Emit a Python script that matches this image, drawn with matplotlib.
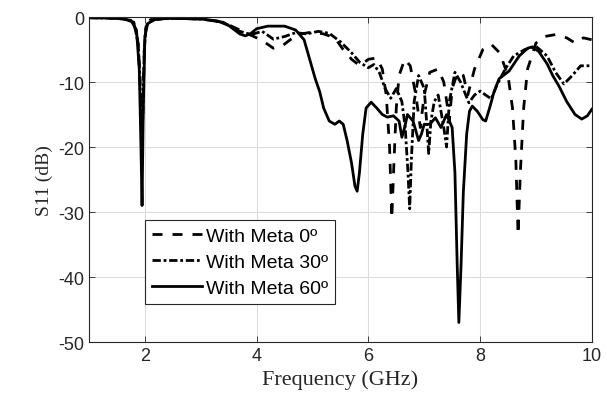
import numpy as np
import matplotlib.pyplot as plt

plt.rcParams['font.family'] = 'Liberation Sans'
plt.rcParams['axes.unicode_minus'] = False

# S11 curves (frequency in GHz, S11 in dB)
freq_0 = [1.0, 1.6, 1.8, 1.88, 1.91, 1.93, 1.95, 1.97, 1.99, 2.02, 2.1, 2.5, 3.0, 3.4,
          3.7, 3.9, 4.1, 4.3, 4.45, 4.6, 4.8, 5.0, 5.2, 5.4, 5.55, 5.7, 5.85, 6.0,
          6.15, 6.25, 6.32, 6.38, 6.42, 6.46, 6.5, 6.55, 6.65, 6.75, 6.85, 6.93, 7.0,
          7.1, 7.25, 7.35, 7.42, 7.45, 7.5, 7.6, 7.7, 7.78, 7.9, 8.05, 8.2, 8.35,
          8.5, 8.58, 8.64, 8.68, 8.72, 8.78, 8.85, 9.0, 9.15, 9.35, 9.55, 9.7, 9.85, 10.0]
s11_0 = [-0.1, -0.2, -0.8, -4, -9, -15, -20, -12, -5, -1.5, -0.4, -0.2, -0.3, -0.8,
         -2, -2.8, -3.6, -4.8, -4.5, -3.5, -2.6, -2.3, -2.6, -3.2, -5, -6.5, -7.5, -6.5,
         -6.3, -8, -12, -20, -31, -22, -14, -9, -6.5, -7.5, -12, -17, -12,
         -8.5, -8, -10, -14, -16, -11, -8.5, -9, -12, -8, -5, -4.2, -5.5,
         -9, -14, -22, -33.5, -24, -14, -8, -4, -3, -2.7, -3.2, -4, -3.2, -3.5]

freq_30 = [1.0, 1.6, 1.8, 1.88, 1.91, 1.93, 1.95, 1.97, 1.99, 2.02, 2.1, 2.5, 3.0, 3.4,
           3.7, 3.9, 4.1, 4.3, 4.5, 4.7, 4.9, 5.1, 5.3, 5.5, 5.7, 5.85, 6.0, 6.1, 6.2,
           6.3, 6.4, 6.5, 6.6, 6.66, 6.71, 6.74, 6.77, 6.82, 6.9, 7.0, 7.05, 7.08,
           7.12, 7.18, 7.25, 7.35, 7.4, 7.45, 7.55, 7.65, 7.8, 7.9, 8.0, 8.1, 8.2,
           8.3, 8.45, 8.6, 8.8, 9.0, 9.2, 9.35, 9.5, 9.65, 9.8, 10.0]
s11_30 = [-0.1, -0.2, -0.8, -4, -9, -15, -21, -12, -5, -1.5, -0.4, -0.2, -0.3, -0.8,
          -2.2, -2.7, -2.2, -3.4, -3.0, -2.4, -2.6, -2.2, -2.5, -3.8, -5.5, -7, -7.8, -7.3, -8.6,
          -11, -12.5, -11, -13, -17, -24, -29.5, -22, -13, -9, -11, -17, -21,
          -16, -13, -12, -17, -20, -13, -8.5, -10, -13.2, -12, -11.4, -12, -12.6,
          -10.5, -8, -6, -5, -4.5, -6, -8.5, -10.3, -9, -7.5, -7.5]

freq_60 = [1.0, 1.5, 1.75, 1.85, 1.9, 1.93, 1.95, 1.97, 2.0, 2.05, 2.2, 2.5, 3.0, 3.3,
           3.5, 3.7, 3.8, 3.9, 4.0, 4.2, 4.5, 4.7, 4.85, 4.95, 5.05, 5.13, 5.2, 5.3,
           5.4, 5.48, 5.55, 5.62, 5.7, 5.76, 5.8, 5.84, 5.9, 5.96, 6.05, 6.15, 6.25,
           6.34, 6.45, 6.55, 6.6, 6.65, 6.7, 6.8, 6.9, 6.95, 7.0, 7.1, 7.2, 7.3, 7.4,
           7.5, 7.55, 7.59, 7.62, 7.66, 7.7, 7.76, 7.81, 7.86, 7.95, 8.05, 8.1, 8.17,
           8.25, 8.34, 8.52, 8.7, 8.85, 8.93, 9.05, 9.2, 9.3, 9.41, 9.55, 9.7, 9.82,
           9.92, 10.0]
s11_60 = [-0.1, -0.2, -0.5, -2, -8, -20, -29, -15, -3, -1, -0.3, -0.2, -0.3, -0.6,
          -1.3, -2.6, -2.9, -2.5, -1.8, -1.4, -1.4, -2.0, -3.5, -6.5, -9.5, -11.5, -14, -16,
          -16.5, -16, -16.5, -19, -22.5, -26, -26.8, -24, -18, -14, -13.1, -14, -15,
          -15.4, -15.2, -16, -18.5, -17, -15, -16, -19, -18, -16.5, -16.5, -15.5, -17, -15,
          -17, -24, -38, -47, -38, -27, -18, -14.5, -13.7, -14.5, -15.8, -16, -14,
          -11.5, -9.5, -8.3, -6, -4.8, -4.6, -5.3, -7.2, -9, -10.6, -13, -15, -15.7,
          -15.2, -14.2]

labels = ['With Meta 0º', 'With Meta 30º', 'With Meta 60º']

fig = plt.figure(figsize=(6.07, 4.10), dpi=100)
ax = fig.add_axes([0.1466, 0.1634, 0.8284, 0.7926])

ax.plot(freq_0, s11_0, color='black', lw=2.0, linestyle=(0, (3.6, 3.6)), label=labels[0])
ax.plot(freq_30, s11_30, color='black', lw=2.0, linestyle=(0, (3, 1, 1, 1)), label=labels[1])
ax.plot(freq_60, s11_60, color='black', lw=2.0, linestyle='-', label=labels[2])

ax.set_xlim(1, 10)
ax.set_ylim(-50, 0)
ax.set_xticks([2, 4, 6, 8, 10])
ax.set_yticks([0, -10, -20, -30, -40, -50])
ax.grid(True, color='#dcdcdc', linewidth=0.8)
ax.set_axisbelow(True)
ax.tick_params(direction='in', top=True, right=True, labelsize=13,
               colors='#262626', length=4, width=0.6)
for sp in ax.spines.values():
    sp.set_color('#262626')
    sp.set_linewidth(0.8)

ax.set_xlabel('Frequency (GHz)', family='Liberation Serif', fontsize=16, color='#262626')
ax.set_ylabel('S11 (dB)', family='Liberation Serif', fontsize=14, color='#262626')

leg = ax.legend(loc='upper left', bbox_to_anchor=(0.111, 0.375), fontsize=14,
                frameon=True, fancybox=False, framealpha=1, edgecolor='#262626',
                handlelength=2.6, handletextpad=0.2, labelspacing=0.45,
                borderpad=0.35, borderaxespad=0)
leg.get_frame().set_linewidth(0.8)

fig.savefig('out.png', dpi=100)
